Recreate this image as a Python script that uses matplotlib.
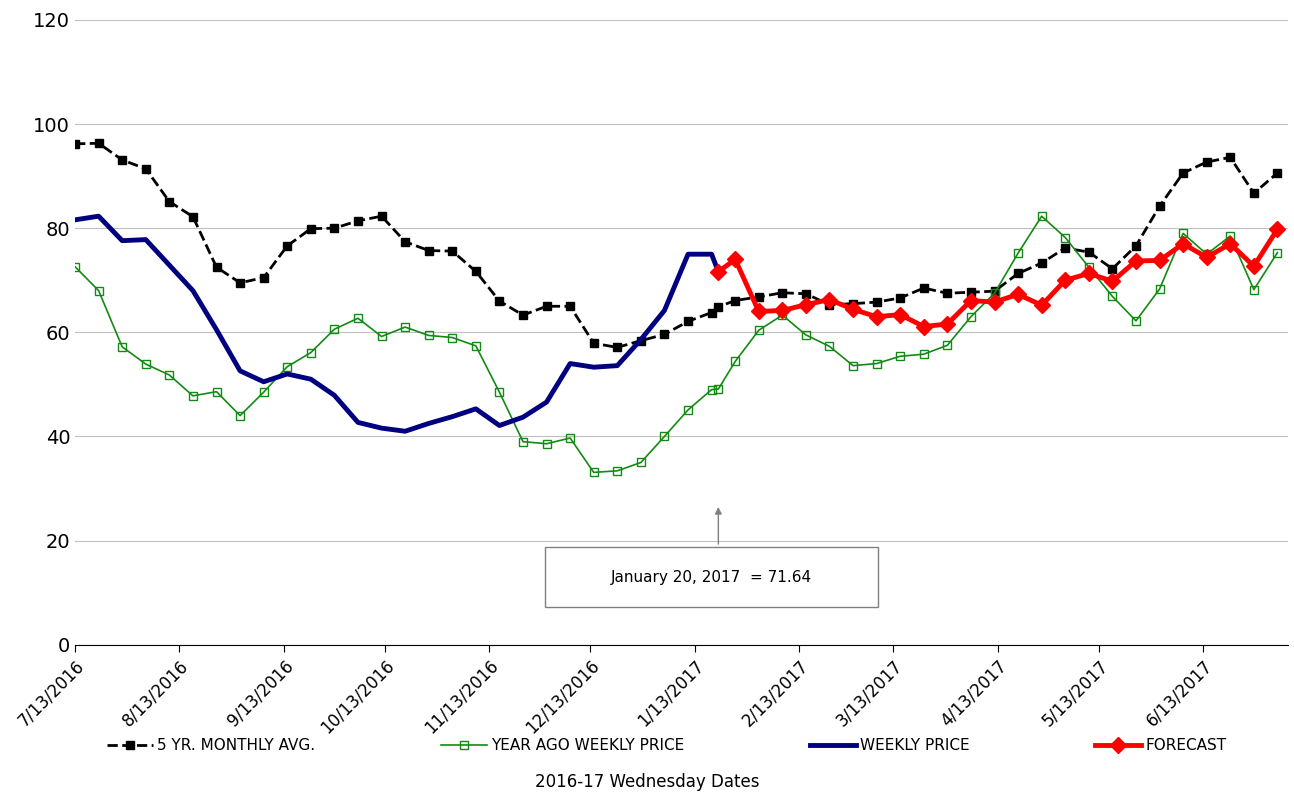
from datetime import date, timedelta

import matplotlib.pyplot as plt
from matplotlib.patches import Rectangle

start = date(2016, 7, 13)
dates = [start + timedelta(weeks=i) for i in range(28)] + [date(2017, 1, 20)] + \
    [date(2017, 1, 25) + timedelta(weeks=i) for i in range(24)]

five_yr = [96.2, 96.3, 93.1, 91.4, 85.1, 82.2, 72.5, 69.5, 70.5, 76.6,
           79.9, 80.0, 81.4, 82.3, 77.4, 75.7, 75.6, 71.7, 66.0, 63.3,
           65.0, 65.0, 57.9, 57.1, 58.4, 59.6, 62.1, 63.8, 64.9, 66.1,
           66.8, 67.6, 67.4, 65.3, 65.5, 65.8, 66.6, 68.5, 67.5, 67.7,
           67.9, 71.3, 73.3, 76.2, 75.4, 72.2, 76.6, 84.2, 90.6, 92.7,
           93.6, 86.7, 90.6]
year_ago = [72.6, 68.0, 57.2, 53.9, 51.8, 47.8, 48.6, 44.0, 48.5, 53.4,
            56.1, 60.6, 62.7, 59.2, 61.0, 59.4, 59.0, 57.4, 48.5, 39.0,
            38.6, 39.7, 33.1, 33.4, 35.0, 40.0, 45.1, 49.0, 49.1, 54.4,
            60.4, 63.3, 59.5, 57.3, 53.6, 54.0, 55.4, 55.8, 57.5, 63.0,
            67.5, 75.2, 82.3, 78.2, 72.5, 66.9, 62.2, 68.3, 79.0, 75.0,
            78.5, 68.2, 75.3]
weekly = [81.6, 82.3, 77.6, 77.8, 72.9, 68.0, 60.5, 52.6, 50.5, 52.0,
          51.0, 47.9, 42.7, 41.6, 41.0, 42.5, 43.8, 45.3, 42.1, 43.7,
          46.6, 54.0, 53.3, 53.6, 58.6, 64.2, 75.0, 75.0, 71.64]
forecast = [71.64, 74.0, 64.0, 64.2, 65.3, 66.3, 64.4, 63.0, 63.4, 61.1,
            61.6, 66.1, 65.8, 67.3, 65.2, 70.0, 71.3, 69.8, 73.7, 73.8,
            77.0, 74.4, 77.0, 72.7, 79.8]

fig = plt.figure(figsize=(12.94, 7.95), dpi=100)
ax = fig.add_axes([0.058, 0.189, 0.937, 0.786])

ax.plot(dates, five_yr, color="black", ls="--", lw=2, marker="s", ms=6,
        label="5 YR. MONTHLY AVG.")
ax.plot(dates, year_ago, color="#138a13", lw=1.2, marker="s", ms=6, mfc="none",
        label="YEAR AGO WEEKLY PRICE")
ax.plot(dates[:len(weekly)], weekly, color="#000080", lw=3.5, label="WEEKLY PRICE")
ax.plot(dates[len(weekly) - 1:], forecast, color="#ff0000", lw=3.5, marker="D", ms=8,
        label="FORECAST")

ax.set_ylim(0, 120)
ax.set_yticks(range(0, 121, 20))
ax.set_xlim(date(2016, 7, 13), date(2017, 7, 8))
ticks = [date(2016 + (6 + m) // 12, (6 + m) % 12 + 1, 13) for m in range(12)]
ax.set_xticks(ticks)
ax.set_xticklabels([f"{d.month}/{d.day}/{d.year}" for d in ticks], rotation=45,
                   ha="right", rotation_mode="anchor", fontsize=12)
ax.tick_params(axis="y", labelsize=14, length=0)
ax.tick_params(axis="x", length=5, direction="out")
ax.grid(axis="y", color="#c0c0c0", lw=0.8)
ax.set_axisbelow(True)
for s in ["top", "right", "left"]:
    ax.spines[s].set_visible(False)

ax.annotate("", xy=(date(2017, 1, 20), 27), xytext=(date(2017, 1, 20), 18.8),
            arrowprops=dict(arrowstyle="-|>", color="gray", lw=1))
box = Rectangle((0.388, 7.3), 0.274, 11.5, transform=ax.get_yaxis_transform(),
                fc="white", ec="gray", lw=1, zorder=3)
ax.add_patch(box)
ax.text(0.525, 13, "January 20, 2017  = 71.64", transform=ax.get_yaxis_transform(),
        fontsize=11, va="center", ha="center", zorder=4)

fig.legend(loc="lower left", ncol=4, bbox_to_anchor=(0.072, 0.035), frameon=False,
           fontsize=11, handlelength=3, handletextpad=0.3, columnspacing=8.2)
fig.text(0.5, 0.005, "2016-17 Wednesday Dates", fontsize=12, ha="center", va="bottom")

fig.savefig("out.png", dpi=100)
